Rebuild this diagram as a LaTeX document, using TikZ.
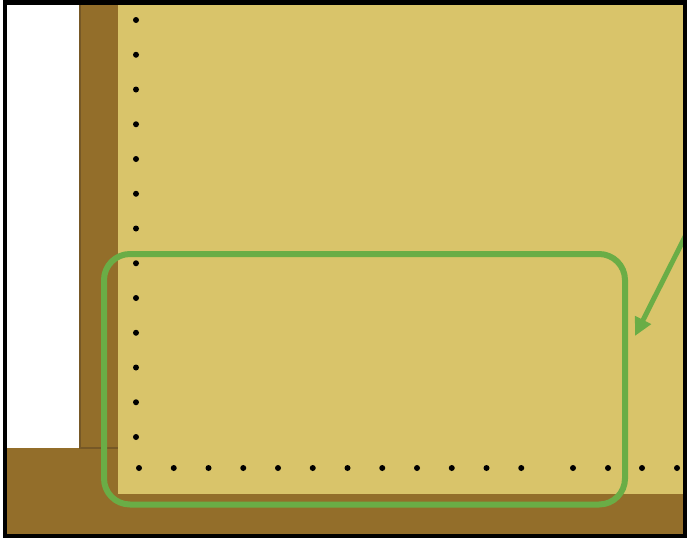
\documentclass[tikz,border=0pt]{standalone}
\usetikzlibrary{arrows.meta}
\definecolor{tan}{RGB}{217,196,106}
\definecolor{soil}{RGB}{147,110,42}
\definecolor{soiledge}{RGB}{118,88,38}
\definecolor{hl}{RGB}{106,173,70}
\tikzset{
  dot/.style={fill=black,circle,inner sep=0pt,minimum size=6pt},
  hlbox/.style={draw=hl,line width=6pt,rounded corners=26pt},
  hlarrow/.style={draw=hl,line width=5pt,-{Triangle[length=18pt,width=17pt]}},
  frame/.style={draw=black,line width=4.5pt}
}
\begin{document}
\begin{tikzpicture}[x=1pt,y=-1pt]
\useasboundingbox (0,0) rectangle (687,538);
\fill[white] (0,0) rectangle (687,538);
% soil
\fill[soil] (5,2) rectangle (686,536);
% tan region
\fill[tan] (118,2) rectangle (686,494);
% white area
\fill[white] (5,2) rectangle (80,448);
\draw[soiledge,line width=1.5pt] (80,2) -- (80,448) -- (118,448);
% vertical dots
\foreach \i in {0,...,12} {
  \node[dot] (v\i) at (136,{20+34.75*\i}) {};
}
% horizontal dots
\foreach \i in {0,...,11} {
  \node[dot] (h\i) at ({139+34.75*\i},468) {};
}
\foreach \x [count=\j] in {573,608,642,677} {
  \node[dot] (r\j) at (\x,468) {};
}
% highlight box
\draw[hlbox] (104,254) rectangle (625,504.5);
% arrow
\coordinate (as) at (700,207);
\coordinate (at) at (635,336);
\begin{scope}
\clip (5,2) rectangle (685,536);
\draw[hlarrow] (as) -- (at);
\end{scope}
% frame
\draw[frame] (5,2.5) rectangle (685.5,536);
\end{tikzpicture}
\end{document}
